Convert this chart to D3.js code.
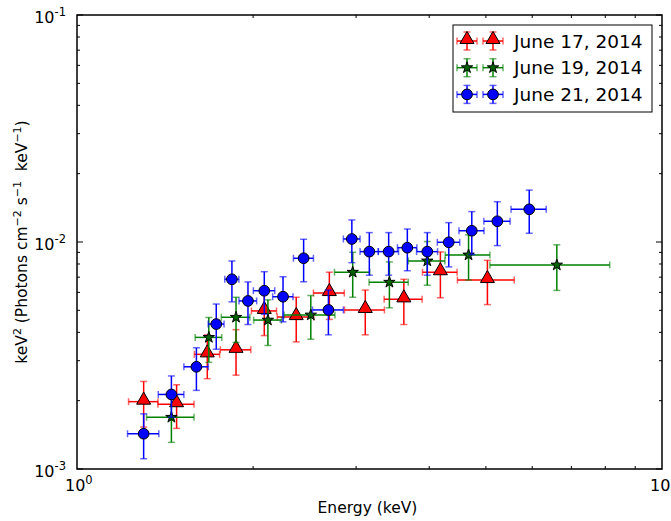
<!DOCTYPE html>
<html>
<head>
<meta charset="utf-8">
<script src="https://cdn.jsdelivr.net/npm/d3@7/dist/d3.min.js"></script>
<style>
  body { margin: 0; background: #fff; }
  svg { display: block; font-family: "DejaVu Sans", sans-serif; }
</style>
</head>
<body>
<svg id="chart" width="671" height="521"></svg>
<script>
// Spectra, keV^2 flux vs energy. Errors are half-widths (symmetric, linear).
const series = ["June 17, 2014", "June 19, 2014", "June 21, 2014"];

const june17Energy = [1.30, 1.48, 1.67, 1.87, 2.09, 2.37, 2.70, 3.11, 3.62, 4.18, 5.03];
const june17EnergyErr = [0.075, 0.105, 0.083, 0.112, 0.103, 0.17, 0.164, 0.244, 0.27, 0.284, 0.56];
const june17Flux = [1.98e-3, 1.93e-3, 3.20e-3, 3.35e-3, 4.97e-3, 4.67e-3, 5.96e-3, 5.02e-3, 5.59e-3, 7.36e-3, 6.80e-3];
const june17FluxErr = [0.45e-3, 0.42e-3, 0.70e-3, 0.76e-3, 1.1e-3, 1.04e-3, 1.4e-3, 1.12e-3, 1.26e-3, 1.68e-3, 1.5e-3];

const june19Energy = [1.45, 1.68, 1.87, 2.12, 2.51, 2.96, 3.42, 3.97, 4.67, 6.61];
const june19EnergyErr = [0.135, 0.088, 0.105, 0.116, 0.25, 0.205, 0.263, 0.285, 0.41, 1.53];
const june19Flux = [1.69e-3, 3.80e-3, 4.66e-3, 4.53e-3, 4.77e-3, 7.36e-3, 6.65e-3, 8.25e-3, 8.77e-3, 7.92e-3];
const june19FluxErr = [0.38e-3, 0.85e-3, 1.05e-3, 1.03e-3, 1.04e-3, 1.65e-3, 1.52e-3, 1.8e-3, 1.97e-3, 1.8e-3];

const june21Energy = [1.30, 1.45, 1.60, 1.73, 1.84, 1.96, 2.09, 2.25, 2.44, 2.69, 2.95, 3.16, 3.41, 3.67, 3.97, 4.32, 4.73, 5.23, 5.93];
const june21EnergyErr = [0.08, 0.073, 0.077, 0.054, 0.051, 0.068, 0.088, 0.09, 0.096, 0.163, 0.097, 0.113, 0.135, 0.14, 0.164, 0.19, 0.233, 0.27, 0.41];
const june21Flux = [1.43e-3, 2.13e-3, 2.82e-3, 4.35e-3, 6.85e-3, 5.50e-3, 6.10e-3, 5.74e-3, 8.48e-3, 5.02e-3, 1.031e-2, 9.07e-3, 9.07e-3, 9.44e-3, 9.07e-3, 9.97e-3, 1.121e-2, 1.234e-2, 1.393e-2];
const june21FluxErr = [0.32e-3, 0.44e-3, 0.6e-3, 0.98e-3, 1.4e-3, 1.17e-3, 1.3e-3, 1.29e-3, 1.8e-3, 1.12e-3, 2.2e-3, 1.93e-3, 1.93e-3, 1.97e-3, 1.93e-3, 2.2e-3, 2.4e-3, 2.7e-3, 3.0e-3];

const xDecades = [1, 10];
const yDecades = [1e-3, 1e-2, 1e-1];
const xTickLabels = [["10", "0"], ["10", "1"]];
const yTickLabels = [["10", "-3"], ["10", "-2"], ["10", "-1"]];

const width = 671, height = 521;
const margin = { top: 15, right: 9, bottom: 52, left: 77 };
const plotW = width - margin.left - margin.right;
const plotH = height - margin.top - margin.bottom;

const x = d3.scaleLog().domain([1, 10]).range([margin.left, margin.left + plotW]);
const y = d3.scaleLog().domain([1e-3, 1e-1]).range([margin.top + plotH, margin.top]);

const svg = d3.select("#chart");

function zip(E, Ee, F, Fe) {
    return E.map((e, i) => ({ e: e, ee: Ee[i], f: F[i], fe: Fe[i] }));
}

const styles = [
    { name: series[0], data: zip(june17Energy, june17EnergyErr, june17Flux, june17FluxErr), color: "#ff0000", fill: "#ff0000", marker: d3.symbolTriangle, size: 85 },
    { name: series[1], data: zip(june19Energy, june19EnergyErr, june19Flux, june19FluxErr), color: "#008000", fill: "#006400", marker: d3.symbolStar, size: 40 },
    { name: series[2], data: zip(june21Energy, june21EnergyErr, june21Flux, june21FluxErr), color: "#0000ff", fill: "#0000ff", marker: d3.symbolCircle, size: 90 },
];

const cap = 3.5;

function drawErrorbar(g, cx, cy, x0, x1, y0, y1, s) {
    g.append("line").attr("x1", x0).attr("x2", x1).attr("y1", cy).attr("y2", cy)
        .attr("stroke", s.color).attr("stroke-width", 1.5);
    g.append("line").attr("x1", cx).attr("x2", cx).attr("y1", y0).attr("y2", y1)
        .attr("stroke", s.color).attr("stroke-width", 1.5);
    const caps = [[x0, cy - cap, x0, cy + cap], [x1, cy - cap, x1, cy + cap],
                  [cx - cap, y0, cx + cap, y0], [cx - cap, y1, cx + cap, y1]];
    caps.forEach(c => g.append("line")
        .attr("x1", c[0]).attr("y1", c[1]).attr("x2", c[2]).attr("y2", c[3])
        .attr("stroke", s.color).attr("stroke-width", 1.5).attr("stroke-opacity", 0.6));
}

function drawMarker(g, cx, cy, s) {
    const shift = s.marker === d3.symbolTriangle ? 1.5 : 0;
    g.append("path")
        .attr("d", d3.symbol().type(s.marker).size(s.size)())
        .attr("transform", `translate(${cx},${cy - shift})`)
        .attr("fill", s.fill)
        .attr("stroke", "#000")
        .attr("stroke-width", 1);
}

// data
const plot = svg.append("g").attr("class", "series");
styles.forEach(s => {
    const g = plot.append("g");
    s.data.forEach(d => {
        drawErrorbar(g, x(d.e), y(d.f), x(d.e - d.ee), x(d.e + d.ee), y(d.f + d.fe), y(d.f - d.fe), s);
    });
    s.data.forEach(d => drawMarker(g, x(d.e), y(d.f), s));
});

// frame
svg.append("rect")
    .attr("x", margin.left).attr("y", margin.top)
    .attr("width", plotW).attr("height", plotH)
    .attr("fill", "none").attr("stroke", "#000").attr("stroke-width", 1.5);

// ticks (inside, on all four sides)
const ticksG = svg.append("g").attr("stroke", "#000").attr("stroke-width", 1);
function minorTicks(decades) {
    const out = [];
    decades.slice(0, -1).forEach(d => { for (let k = 2; k < 10; k++) out.push(d * k); });
    return out;
}
const xMinor = minorTicks(xDecades), yMinor = minorTicks(yDecades);
const yBottom = margin.top + plotH, xRight = margin.left + plotW;

xMinor.forEach(v => {
    ticksG.append("line").attr("x1", x(v)).attr("x2", x(v)).attr("y1", yBottom).attr("y2", yBottom - 3);
    ticksG.append("line").attr("x1", x(v)).attr("x2", x(v)).attr("y1", margin.top).attr("y2", margin.top + 3);
});
yMinor.forEach(v => {
    ticksG.append("line").attr("y1", y(v)).attr("y2", y(v)).attr("x1", margin.left).attr("x2", margin.left + 3);
    ticksG.append("line").attr("y1", y(v)).attr("y2", y(v)).attr("x1", xRight).attr("x2", xRight - 3);
});
yDecades.forEach(v => {
    ticksG.append("line").attr("y1", y(v)).attr("y2", y(v)).attr("x1", margin.left).attr("x2", margin.left + 6);
    ticksG.append("line").attr("y1", y(v)).attr("y2", y(v)).attr("x1", xRight).attr("x2", xRight - 6);
});

// tick labels
function powLabel(g, px, py, parts, anchor) {
    const t = g.append("text").attr("x", px).attr("y", py)
        .attr("text-anchor", anchor).attr("font-size", 16).attr("fill", "#000");
    t.append("tspan").text(parts[0]);
    t.append("tspan").attr("dy", -7).attr("font-size", 11.5).text(parts[1]);
}
const labelsG = svg.append("g");
xDecades.forEach((v, i) => powLabel(labelsG, x(v) - 12, yBottom + 22, xTickLabels[i], "start"));
yDecades.forEach((v, i) => powLabel(labelsG, margin.left - 11, y(v) + 8, yTickLabels[i], "end"));

// axis titles
svg.append("text")
    .attr("x", margin.left + plotW / 2 - 2).attr("y", 513)
    .attr("text-anchor", "middle").attr("font-size", 15.5)
    .text("Energy (keV)");

const yl = svg.append("text")
    .attr("transform", `translate(27,${margin.top + plotH / 2}) rotate(-90)`)
    .attr("text-anchor", "middle").attr("font-size", 15.5);
yl.append("tspan").text("keV");
yl.append("tspan").attr("dy", -6).attr("font-size", 11).text("2");
yl.append("tspan").attr("dy", 6).text(" (Photons cm");
yl.append("tspan").attr("dy", -6).attr("font-size", 11).text("\u22122");
yl.append("tspan").attr("dy", 6).text(" s");
yl.append("tspan").attr("dy", -6).attr("font-size", 11).text("\u22121");
yl.append("tspan").attr("dy", 6).text("\u00a0 keV");
yl.append("tspan").attr("dy", -6).attr("font-size", 11).text("\u22121");
yl.append("tspan").attr("dy", 6).text(")");

// legend
const legend = svg.append("g");
legend.append("rect")
    .attr("x", 453).attr("y", 25).attr("width", 199).attr("height", 87)
    .attr("fill", "#fff").attr("stroke", "#000").attr("stroke-width", 1);
styles.forEach((s, i) => {
    const ry = 41 + i * 26.7;
    const g = legend.append("g");
    [467, 493].forEach(cx => {
        drawErrorbar(g, cx, ry, cx - 10, cx + 10, ry - 9, ry + 9, s);
    });
    [467, 493].forEach(cx => drawMarker(g, cx, ry, s));
    legend.append("text").attr("x", 514).attr("y", ry + 6.5)
        .attr("font-size", 18.5).text(s.name);
});
</script>
</body>
</html>
